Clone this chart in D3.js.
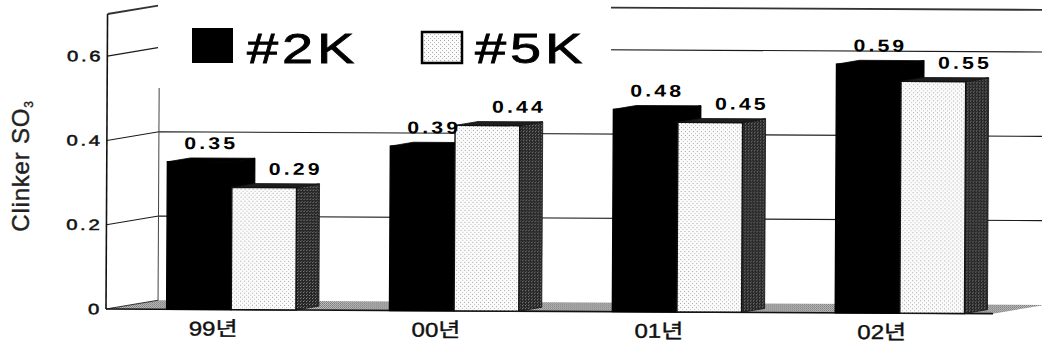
<!DOCTYPE html>
<html>
<head>
<meta charset="utf-8">
<script src="https://cdn.jsdelivr.net/npm/d3@7"></script>
<style>
  html, body { margin: 0; padding: 0; background: #fff; }
  svg { display: block; }
</style>
</head>
<body>
<svg id="chart" width="1042" height="350"></svg>
<script>
// ---- data ----
const categories = ["99년", "00년", "01년", "02년"];
const seriesNames = ["#2K", "#5K"];
const k2Values = [0.35, 0.39, 0.48, 0.59];
const k5Values = [0.29, 0.44, 0.45, 0.55];
const yTicks = [0, 0.2, 0.4, 0.6];
const yTickLabels = ["0", "0.2", "0.4", "0.6"];
const yMax = 0.7;
const yTitleMain = "Clinker SO";
const yTitleSub = "3";

// ---- layout ----
const FRONT_L = 106, FRONT_R = 993, BASE_Y = 309, TOP_Y = 14;
const WALL_DX = 52, WALL_DY = -9;     // depth of the floor / side wall
const BAR_DX = 23, BAR_DY = -4;       // depth of each bar
const TILT = 0.3;                     // slight clockwise tilt of the plot

const svg = d3.select("#chart");
const defs = svg.append("defs");

// halftone-like fills
function pattern(id, size, bg, dots) {
  const p = defs.append("pattern").attr("id", id)
    .attr("width", size).attr("height", size)
    .attr("patternUnits", "userSpaceOnUse");
  p.append("rect").attr("width", size).attr("height", size).attr("fill", bg);
  dots.forEach(([dx, dy, c]) => p.append("rect")
    .attr("x", dx).attr("y", dy).attr("width", 1).attr("height", 1).attr("fill", c));
}
pattern("lightDots", 4, "#fbfbfb", [[0, 0, "#a4a4a4"], [2, 2, "#bcbcbc"]]);
pattern("darkDots", 3, "#262626", [[0, 0, "#8a8a8a"], [1, 2, "#5e5e5e"]]);
pattern("floorDots", 2, "#cacaca", [[0, 0, "#6a6a6a"], [1, 1, "#808080"]]);

// ---- scales ----
const x = d3.scaleBand().domain(categories)
  .range([FRONT_L, FRONT_R]).paddingInner(0.42).paddingOuter(0.2).align(0.68);
const xs = d3.scaleBand().domain(seriesNames).range([0, x.bandwidth()]);
const y = d3.scaleLinear().domain([0, yMax]).range([BASE_Y, TOP_Y]);

const seriesStyle = {
  "#2K": { front: "#000", top: "#000", side: "#000", stroke: "#000", labelShift: 0 },
  "#5K": { front: "url(#lightDots)", top: "#1e1e1e", side: "url(#darkDots)", stroke: "#111", labelShift: 20 }
};

const plot = svg.append("g")
  .attr("transform", `rotate(${TILT},${FRONT_L},${BASE_Y})`);

// ---- floor ----
const y0 = y(0);
plot.append("polygon")
  .attr("points", [
    [FRONT_L, y0], [FRONT_R, y0],
    [FRONT_R + WALL_DX, y0 + WALL_DY], [FRONT_L + WALL_DX, y0 + WALL_DY]
  ].map(p => p.join(",")).join(" "))
  .attr("fill", "url(#floorDots)");
plot.append("line")
  .attr("x1", FRONT_L).attr("y1", y0).attr("x2", FRONT_L + WALL_DX).attr("y2", y0 + WALL_DY)
  .attr("stroke", "#333").attr("stroke-width", 1);

// ---- grid: side wall + back wall ----
const gridVals = yTicks.filter(v => v > 0).concat([yMax]);
plot.selectAll("path.grid").data(gridVals).join("path")
  .attr("class", "grid")
  .attr("d", v => `M${FRONT_L},${y(v)} L${FRONT_L + WALL_DX},${y(v) + WALL_DY} L${FRONT_R + WALL_DX + 20},${y(v) + WALL_DY}`)
  .attr("fill", "none")
  .attr("stroke", v => v === yMax ? "#333" : "#1a1a1a")
  .attr("stroke-width", v => v === yMax ? 1.8 : 1.1);

plot.append("line")
  .attr("x1", FRONT_L + WALL_DX).attr("x2", FRONT_L + WALL_DX)
  .attr("y1", y(yMax) + WALL_DY).attr("y2", y0 + WALL_DY)
  .attr("stroke", "#444").attr("stroke-width", 1);

// front vertical axis
plot.append("line")
  .attr("x1", FRONT_L).attr("x2", FRONT_L)
  .attr("y1", y(0)).attr("y2", y(yMax))
  .attr("stroke", "#111").attr("stroke-width", 1.6);

// front edge of the floor
plot.append("line")
  .attr("x1", FRONT_L).attr("y1", y0).attr("x2", FRONT_R).attr("y2", y0)
  .attr("stroke", "#111").attr("stroke-width", 1.6);

// ---- y tick labels ----
const yAxis = d3.axisLeft(y).tickValues(yTicks)
  .tickFormat((d, i) => yTickLabels[i]).tickSize(0).tickPadding(3);
const axisG = plot.append("g").attr("transform", `translate(${FRONT_L},0)`).call(yAxis);
axisG.select(".domain").remove();
axisG.selectAll("text")
  .attr("transform", "scale(1.35,1)")
  .attr("font-family", "'Liberation Sans', Arial, sans-serif")
  .attr("font-size", 15)
  .attr("letter-spacing", 2)
  .attr("fill", "#111")
  .attr("stroke", "#111").attr("stroke-width", 0.5);

// ---- bars ----
const rows = categories.map((c, i) => ({
  cat: c,
  bars: [
    { s: seriesNames[0], v: k2Values[i] },
    { s: seriesNames[1], v: k5Values[i] }
  ]
}));

const groups = plot.selectAll("g.cat").data(rows).join("g").attr("class", "cat");

groups.each(function (row) {
  const grp = d3.select(this);
  row.bars.forEach(b => {
    const st = seriesStyle[b.s];
    const x0 = x(row.cat) + xs(b.s);
    const w = xs.bandwidth();
    const yt = y(b.v), yb = y(0);
    // right side face
    grp.append("polygon")
      .attr("points", [[x0 + w, yt], [x0 + w + BAR_DX, yt + BAR_DY], [x0 + w + BAR_DX, yb + BAR_DY], [x0 + w, yb]]
        .map(p => p.join(",")).join(" "))
      .attr("fill", st.side).attr("stroke", st.stroke).attr("stroke-width", 0.8);
    // top face
    grp.append("polygon")
      .attr("points", [[x0, yt], [x0 + BAR_DX, yt + BAR_DY], [x0 + w + BAR_DX, yt + BAR_DY], [x0 + w, yt]]
        .map(p => p.join(",")).join(" "))
      .attr("fill", st.top).attr("stroke", st.stroke).attr("stroke-width", 0.8);
    // front face
    grp.append("rect")
      .attr("x", x0).attr("y", yt).attr("width", w).attr("height", yb - yt)
      .attr("fill", st.front).attr("stroke", st.stroke).attr("stroke-width", 1.4);
  });
});

// value labels
groups.each(function (row) {
  const grp = d3.select(this);
  row.bars.forEach(b => {
    const st = seriesStyle[b.s];
    const x0 = x(row.cat) + xs(b.s);
    const cx = x0 + (xs.bandwidth() + BAR_DX) / 2 + st.labelShift;
    const by = y(b.v) + BAR_DY - 9;
    grp.append("g").attr("transform", `translate(${cx},${by})`)
      .append("text")
      .attr("transform", "scale(1.25,1)")
      .attr("text-anchor", "middle")
      .attr("font-family", "'Liberation Sans', Arial, sans-serif")
      .attr("font-weight", "bold")
      .attr("font-size", 17)
      .attr("letter-spacing", 2.5)
      .attr("fill", "#000")
      .text(d3.format(".2f")(b.v));
  });
});

// category labels
plot.selectAll("g.catLabel").data(categories).join("g")
  .attr("class", "catLabel")
  .attr("transform", c => `translate(${x(c) + x.bandwidth() / 2 - 18},335)`)
  .append("text")
  .attr("transform", "scale(1.2,1)")
  .attr("text-anchor", "middle")
  .attr("font-family", "'Liberation Sans', 'Noto Sans CJK KR', sans-serif")
  .attr("font-size", 20)
  .attr("fill", "#111")
  .attr("stroke", "#111").attr("stroke-width", 0.4)
  .text(c => c);

// ---- y title ----
const yt = svg.append("text")
  .attr("transform", "translate(29,166) rotate(-90)")
  .attr("text-anchor", "middle")
  .attr("font-family", "'Liberation Sans', Arial, sans-serif")
  .attr("font-size", 24)
  .attr("letter-spacing", 0.8)
  .attr("fill", "#222")
  .attr("stroke", "#222").attr("stroke-width", 0.4);
yt.append("tspan").text(yTitleMain);
yt.append("tspan").attr("font-size", 12).attr("dy", 4).text(yTitleSub);

// ---- legend ----
const legend = svg.append("g");
legend.append("rect")
  .attr("x", FRONT_L + WALL_DX).attr("y", 0).attr("width", 453).attr("height", 88)
  .attr("fill", "#fff");

const legendItems = [
  { s: seriesNames[0], bx: 192, by: 28, bw: 41, bh: 35, tx: 247 },
  { s: seriesNames[1], bx: 422, by: 32, bw: 40, bh: 31, tx: 475 }
];
legendItems.forEach(it => {
  const st = seriesStyle[it.s];
  legend.append("rect")
    .attr("x", it.bx).attr("y", it.by).attr("width", it.bw).attr("height", it.bh)
    .attr("fill", st.front).attr("stroke", "#000").attr("stroke-width", it.s === "#5K" ? 2.5 : 0);
  legend.append("g").attr("transform", `translate(${it.tx},63)`)
    .append("text")
    .attr("transform", "scale(1.3,1)")
    .attr("font-family", "'Liberation Sans', Arial, sans-serif")
    .attr("font-size", 43)
    .attr("letter-spacing", 3)
    .attr("fill", "#000")
    .attr("stroke", "#000").attr("stroke-width", 0.8)
    .text(it.s);
});
</script>
</body>
</html>
